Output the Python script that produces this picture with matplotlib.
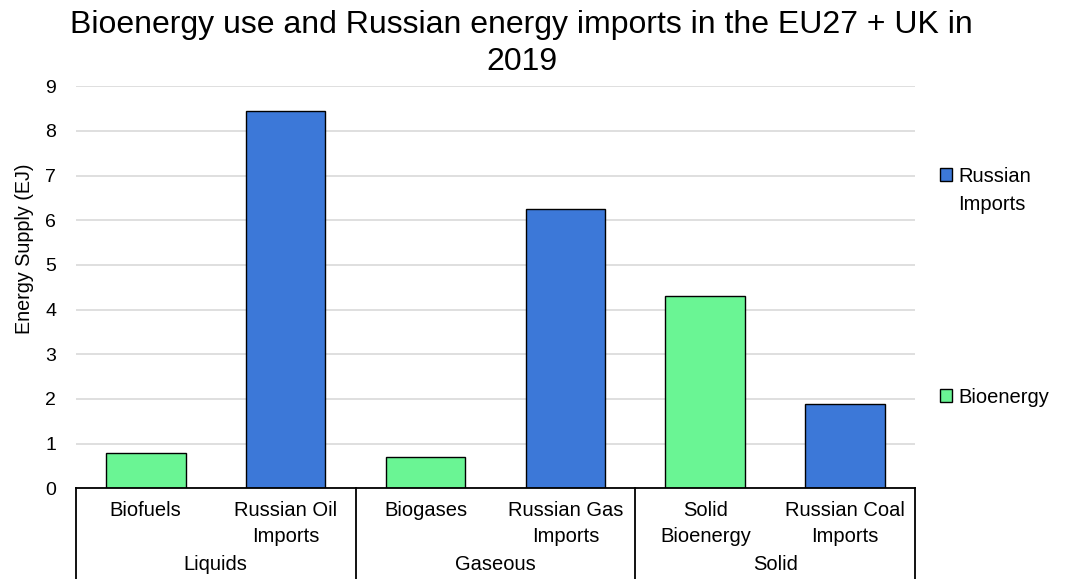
import matplotlib
matplotlib.use("Agg")
from matplotlib import pyplot as plt
from matplotlib.patches import Patch
import matplotlib.transforms as mtransforms

plt.rcParams['font.family'] = ['Liberation Sans', 'DejaVu Sans']

# data
labels = ["Biofuels", "Russian Oil\nImports", "Biogases", "Russian Gas\nImports",
          "Solid\nBioenergy", "Russian Coal\nImports"]
groups = ["Liquids", "Gaseous", "Solid"]
bio_x = [0, 2, 4]
bio_vals = [0.80, 0.70, 4.30]
rus_x = [1, 3, 5]
rus_vals = [8.45, 6.25, 1.88]

green = '#6AF594'
blue = '#3C78D8'

fig = plt.figure(figsize=(10.69, 5.79), dpi=100)
ax = fig.add_axes([0.0708, 0.1566, 0.7854, 0.6944])

ax.bar(bio_x, bio_vals, width=0.57, color=green, edgecolor='black', linewidth=1, zorder=3, label='Bioenergy')
ax.bar(rus_x, rus_vals, width=0.57, color=blue, edgecolor='black', linewidth=1, zorder=3, label='Russian Imports')

ax.set_xlim(-0.5, 5.5)
ax.set_ylim(0, 9)
ax.set_yticks(range(0, 10))
ax.yaxis.grid(True, color='#D9D9D9', linewidth=1.2, zorder=0)
ax.tick_params(axis='y', length=0, labelsize=14, pad=14)

for s in ['left', 'right', 'top']:
    ax.spines[s].set_visible(False)
ax.spines['bottom'].set_color('black')
ax.spines['bottom'].set_linewidth(1.3)
ax.spines['bottom'].set_zorder(4)

# y axis title (sits a bit above the plot centre, like the original)
fig.text(25 / 1069, 1 - 249 / 579, 'Energy Supply (EJ)', rotation=90,
         ha='center', va='center', fontsize=14.2)

# category axis: first level
ax.set_xticks(range(len(labels)))
ax.set_xticklabels(labels, fontsize=14.5, linespacing=1.45)
ax.tick_params(axis='x', length=0, pad=9)

# category axis: second level and separators
trans = mtransforms.blended_transform_factory(ax.transData, ax.transAxes)
for b in [-0.5, 1.5, 3.5, 5.5]:
    ax.plot([b, b], [0, -0.24], transform=trans, color='black', linewidth=1.3, clip_on=False)
for i, g in enumerate(groups):
    ax.text(2 * i + 0.5, -0.19, g, transform=trans, ha='center', va='center', fontsize=14.5)

fig.text(0.488, 0.925, 'Bioenergy use and Russian energy imports in the EU27 + UK in\n2019',
         ha='center', va='center', fontsize=23, linespacing=1.3)

h_rus = Patch(facecolor=blue, edgecolor='black', linewidth=1)
h_bio = Patch(facecolor=green, edgecolor='black', linewidth=1)
leg1 = fig.legend([h_rus], ['Russian'], loc='center left', bbox_to_anchor=(0.872, 0.696),
                  frameon=False, fontsize=14.5, handlelength=0.6, handleheight=0.6,
                  handletextpad=0.3, borderaxespad=0)
fig.text(958 / 1069, 1 - 205 / 579, 'Imports', ha='left', va='center', fontsize=14.5)
leg2 = fig.legend([h_bio], ['Bioenergy'], loc='center left', bbox_to_anchor=(0.872, 0.314),
                  frameon=False, fontsize=14.5, handlelength=0.6, handleheight=0.6,
                  handletextpad=0.3, borderaxespad=0)

plt.savefig('out.png', dpi=100)
